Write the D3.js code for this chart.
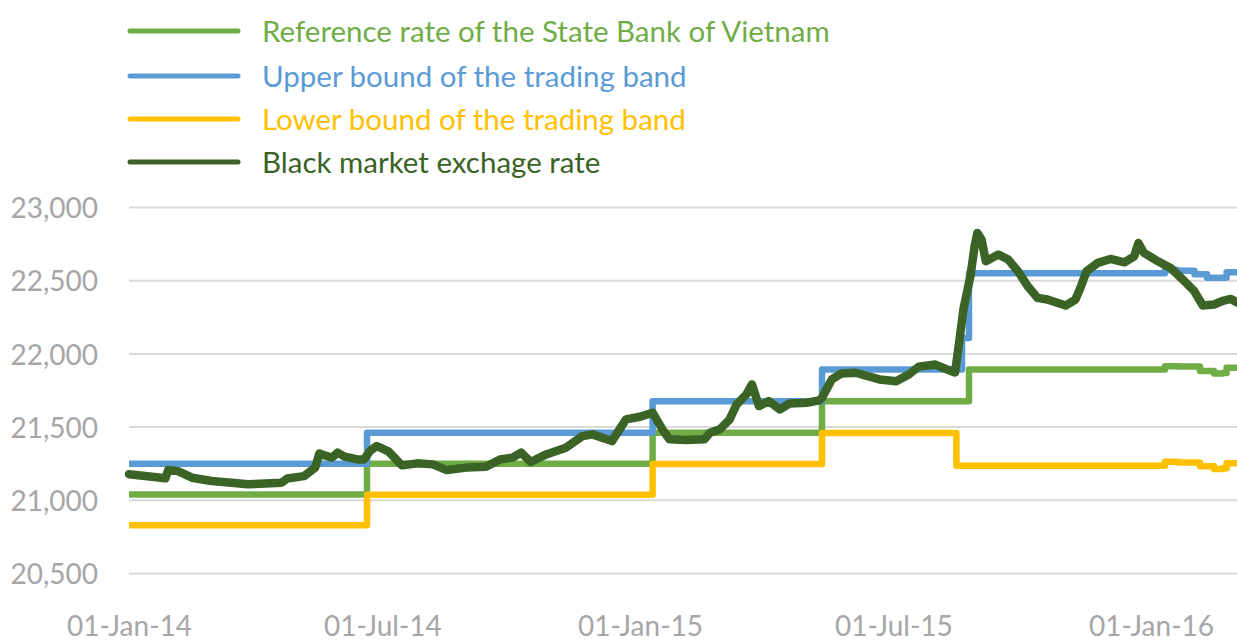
<!DOCTYPE html>
<html>
<head>
<meta charset="utf-8">
<script src="https://cdn.jsdelivr.net/npm/d3@7"></script>
<style>
  body { margin: 0; background: #fff; }
  svg { display: block; }
  text { font-family: Lato, "Open Sans", sans-serif; }
</style>
</head>
<body>
<div id="chart"></div>
<script>
// series names / colours for the legend
const seriesNames = [
  "Reference rate of the State Bank of Vietnam",
  "Upper bound of the trading band",
  "Lower bound of the trading band",
  "Black market exchage rate"
];
const seriesColors = ["#70ad47", "#5b9bd5", "#ffc000", "#3b6326"];

// tick labels
const yTicks = [20500, 21000, 21500, 22000, 22500, 23000];
const xTicks = ["2014-01-01", "2014-07-01", "2015-01-01", "2015-07-01", "2016-01-01"];

// reference rate (step changes, daily fixing from Jan 2016)
const refDates = ["2014-01-01", "2014-06-20", "2015-01-10", "2015-05-11", "2015-08-24",
  "2016-01-06", "2016-01-11", "2016-01-20", "2016-02-05", "2016-02-15", "2016-02-21", "2016-02-24", "2016-03-03"];
const refValues = [21036, 21246, 21458, 21673, 21890,
  21890, 21913, 21910, 21879, 21863, 21866, 21902, 21900];

// upper bound of band
const upperDates = ["2014-01-01", "2014-06-20", "2015-01-10", "2015-05-11", "2015-08-19", "2015-08-24",
  "2016-01-06", "2016-01-11", "2016-01-20", "2016-02-01", "2016-02-10", "2016-02-20", "2016-02-24", "2016-03-03"];
const upperValues = [21246, 21458, 21673, 21890, 22106, 22547,
  22547, 22570, 22565, 22540, 22516, 22516, 22555, 22550];

// lower bound of band
const lowerDates = ["2014-01-01", "2014-06-20", "2015-01-10", "2015-05-11", "2015-08-15",
  "2016-01-06", "2016-01-11", "2016-01-20", "2016-02-05", "2016-02-15", "2016-02-21", "2016-02-24", "2016-03-03"];
const lowerValues = [20826, 21034, 21244, 21456, 21233,
  21233, 21260, 21255, 21230, 21210, 21215, 21250, 21245];

// black market rate
const blackDates = [
  "2014-01-01", "2014-01-27", "2014-01-29", "2014-02-05", "2014-02-15", "2014-03-01", "2014-03-27",
  "2014-04-20", "2014-04-24", "2014-05-06", "2014-05-14", "2014-05-17", "2014-05-21", "2014-05-26",
  "2014-05-30", "2014-06-04", "2014-06-13", "2014-06-18", "2014-06-22", "2014-06-27", "2014-07-05",
  "2014-07-15", "2014-07-26", "2014-08-06", "2014-08-16", "2014-08-30", "2014-09-13", "2014-09-23",
  "2014-10-02", "2014-10-08", "2014-10-15", "2014-10-26", "2014-11-09", "2014-11-21", "2014-11-28",
  "2014-12-12", "2014-12-22", "2015-01-01", "2015-01-10", "2015-01-17", "2015-01-22", "2015-02-03",
  "2015-02-16", "2015-02-20", "2015-02-27", "2015-03-06", "2015-03-11", "2015-03-18", "2015-03-22",
  "2015-03-27", "2015-04-03", "2015-04-11", "2015-04-18", "2015-04-30", "2015-05-09", "2015-05-11",
  "2015-05-18", "2015-05-25", "2015-06-04", "2015-06-21", "2015-07-03", "2015-07-12", "2015-07-19",
  "2015-07-31", "2015-08-07", "2015-08-14", "2015-08-16", "2015-08-20", "2015-08-25", "2015-08-28",
  "2015-08-30", "2015-09-02", "2015-09-05", "2015-09-14", "2015-09-21", "2015-09-28", "2015-10-05",
  "2015-10-12", "2015-10-19", "2015-11-01", "2015-11-08", "2015-11-12", "2015-11-16", "2015-11-24",
  "2015-12-03", "2015-12-13", "2015-12-20", "2015-12-23", "2015-12-27", "2016-01-06", "2016-01-15",
  "2016-01-25", "2016-02-01", "2016-02-07", "2016-02-15", "2016-02-22", "2016-02-27", "2016-03-03"
];
const blackValues = [
  21175, 21147, 21203, 21196, 21151, 21128, 21106,
  21117, 21145, 21162, 21220, 21317, 21303, 21288,
  21322, 21295, 21276, 21276, 21333, 21367, 21333,
  21235, 21249, 21242, 21203, 21220, 21226, 21276,
  21288, 21322, 21258, 21310, 21356, 21435, 21447,
  21401, 21549, 21567, 21595, 21481, 21413, 21408,
  21413, 21458, 21481, 21549, 21651, 21720, 21788,
  21640, 21674, 21617, 21658, 21663, 21679, 21697,
  21822, 21863, 21868, 21822, 21810, 21856, 21909,
  21924, 21895, 21870, 22006, 22300, 22527, 22731,
  22823, 22777, 22629, 22675, 22641, 22561, 22458,
  22379, 22368, 22327, 22368, 22458, 22561, 22618,
  22645, 22622, 22663, 22754, 22686, 22629, 22584,
  22492, 22424, 22327, 22334, 22361, 22372, 22345
];

const width = 1237, height = 643;
const parse = d3.timeParse("%Y-%m-%d");

const x = d3.scaleTime()
  .domain([parse("2014-01-01"), parse("2016-01-01")])
  .range([129, 1151]);

const y = d3.scaleLinear()
  .domain([20500, 23000])
  .range([573, 207]);

const svg = d3.select("#chart")
  .append("svg")
  .attr("width", width)
  .attr("height", height);

// y axis with gridlines
const yAxis = svg.append("g")
  .attr("transform", "translate(129,0)")
  .call(d3.axisLeft(y)
    .tickValues(yTicks)
    .tickFormat(d3.format(","))
    .tickSizeInner(-(width - 129))
    .tickSizeOuter(0)
    .tickPadding(31));
yAxis.select(".domain").remove();
yAxis.selectAll("line").attr("stroke", "#d9d9d9").attr("stroke-width", 2);
yAxis.selectAll("text")
  .attr("fill", "#a6a6a6")
  .attr("font-size", 28)
  .attr("dy", "0.38em");

// x axis labels
const xAxis = svg.append("g")
  .attr("transform", "translate(0,573)")
  .call(d3.axisBottom(x)
    .tickValues(xTicks.map(parse))
    .tickFormat(d3.timeFormat("%d-%b-%y"))
    .tickSize(0)
    .tickPadding(43));
xAxis.select(".domain").remove();
xAxis.selectAll("text")
  .attr("fill", "#a6a6a6")
  .attr("font-size", 28);

function toPoints(dates, values) {
  return dates.map((d, i) => ({ date: parse(d), value: values[i] }));
}

const stepLine = d3.line()
  .x(d => x(d.date))
  .y(d => y(d.value))
  .curve(d3.curveStepAfter);

const smoothLine = d3.line()
  .x(d => x(d.date))
  .y(d => y(d.value));

const steps = [
  toPoints(refDates, refValues),
  toPoints(upperDates, upperValues),
  toPoints(lowerDates, lowerValues)
];

steps.forEach((pts, i) => {
  svg.append("path")
    .attr("d", stepLine(pts))
    .attr("fill", "none")
    .attr("stroke", seriesColors[i])
    .attr("stroke-width", 6.5)
    .attr("stroke-linejoin", "round");
});

svg.append("path")
  .attr("d", smoothLine(toPoints(blackDates, blackValues)))
  .attr("fill", "none")
  .attr("stroke", seriesColors[3])
  .attr("stroke-width", 8.5)
  .attr("stroke-linejoin", "round")
  .attr("stroke-linecap", "round");

// legend
const legend = svg.append("g");
const rowY = [31, 76, 119, 162];

seriesNames.forEach((name, i) => {
  legend.append("line")
    .attr("x1", 130)
    .attr("x2", 238)
    .attr("y1", rowY[i])
    .attr("y2", rowY[i])
    .attr("stroke", seriesColors[i])
    .attr("stroke-width", 5)
    .attr("stroke-linecap", "round");

  legend.append("text")
    .attr("x", 262)
    .attr("y", rowY[i])
    .attr("dy", "0.36em")
    .attr("fill", seriesColors[i])
    .attr("font-size", 29.5)
    .text(name);
});
</script>
</body>
</html>
